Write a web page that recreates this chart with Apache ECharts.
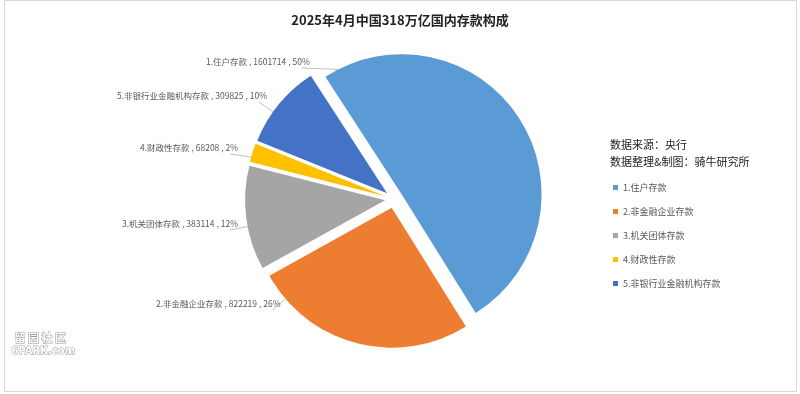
<!DOCTYPE html>
<html>
<head>
<meta charset="utf-8">
<script src="https://cdn.jsdelivr.net/npm/echarts@6/dist/echarts.min.js"></script>
<style>html,body{margin:0;padding:0;background:#fff;}#c{width:800px;height:394px;}</style>
</head>
<body>
<div id="c"></div>
<script>
const titleText = '2025年4月中国318万亿国内存款构成';
const categories = ['1.住户存款', '2.非金融企业存款', '3.机关团体存款', '4.财政性存款', '5.非银行业金融机构存款'];
const values = [1601714, 822219, 383114, 68208, 309825];
const colors = ['#5B9BD5', '#ED7D31', '#A5A5A5', '#FFC000', '#4472C4'];
const sourceLines = ['数据来源：央行', '数据整理&制图：骑牛研究所'];
// label layout (left x, middle y) for each slice label
const labelPos = [[206, 62], [156, 304], [122, 224], [140, 148], [117, 96]];

const PIE_CENTER = [394, 199];
const PIE_R = 140;
const EXPLODE = 9;
const START = 123; // echarts degrees (counter-clockwise from 3 o'clock)

// slice angular ranges (degrees, clockwise from 12 o'clock), derived from the data
const total = values.reduce((a, b) => a + b, 0);
const slices = [];
(function () {
  let acc = 0;
  const base = 90 - START;
  values.forEach(v => {
    const a0 = base + acc / total * 360;
    acc += v;
    slices.push([a0, base + acc / total * 360]);
  });
})();
const rad = d => d * Math.PI / 180;

const chart = echarts.init(document.getElementById('c'), null, {renderer: 'canvas'});
const fontCJK = '"Noto Sans CJK SC", "Noto Sans", sans-serif';
chart.setOption({
  backgroundColor: '#ffffff',
  animation: false,
  color: colors,
  title: {
    text: titleText,
    left: 'center',
    top: 9,
    textStyle: {fontSize: 13, fontWeight: 'bold', color: '#222', fontFamily: fontCJK}
  },
  legend: {
    orient: 'vertical',
    left: 608,
    top: 178,
    icon: 'rect',
    itemWidth: 5,
    itemHeight: 5,
    itemGap: 15,
    selectedMode: false,
    textStyle: {fontSize: 9, color: '#595959', fontFamily: fontCJK},
    data: categories.map((n, i) => ({name: n, itemStyle: {color: colors[i]}}))
  },
  graphic: [
    {type: 'rect', shape: {x: 4.5, y: 0.5, width: 792, height: 391}, style: {fill: 'none', stroke: '#d9d9d9', lineWidth: 1}, silent: true},
    {type: 'text', left: 610, top: 136, style: {text: sourceLines.join('\n'), font: '11px ' + fontCJK, fill: '#222', lineHeight: 17}},
    {type: 'text', left: 14, top: 332, style: {text: '留 园 社 区', font: 'bold 11px ' + fontCJK, fill: '#ffffff', stroke: '#9a9a9a', lineWidth: 1}},
    {type: 'text', left: 11, top: 346, style: {text: '6PARK.com', font: 'bold 10px "DejaVu Sans", sans-serif', fill: '#ffffff', stroke: '#9a9a9a', lineWidth: 1}}
  ],
  series: [{
    type: 'pie',
    center: PIE_CENTER,
    radius: PIE_R,
    startAngle: START,
    clockwise: true,
    selectedMode: 'multiple',
    selectedOffset: EXPLODE,
    silent: true,
    emphasis: {disabled: true},
    itemStyle: {borderWidth: 0},
    label: {show: false},
    labelLine: {show: false},
    data: categories.map((name, i) => ({name: name, value: values[i], selected: true}))
  }, {
    // transparent copy carrying the data labels and leader lines
    type: 'pie',
    center: PIE_CENTER,
    radius: PIE_R,
    startAngle: START,
    clockwise: true,
    silent: true,
    avoidLabelOverlap: false,
    percentPrecision: 0,
    emphasis: {disabled: true},
    itemStyle: {color: 'rgba(0,0,0,0)', borderWidth: 0},
    label: {
      show: true,
      position: 'outside',
      formatter: '{b} , {c} , {d}%',
      fontSize: 8.5,
      color: '#595959',
      fontFamily: fontCJK
    },
    labelLine: {show: true, length: 8, length2: 8, lineStyle: {color: '#bfbfbf', width: 1}},
    labelLayout: function (params) {
      const i = params.dataIndex;
      const p = labelPos[i];
      const w = params.labelRect.width;
      const a0 = slices[i][0], a1 = slices[i][1];
      const mid = (a0 + a1) / 2;
      const cx = PIE_CENTER[0] + EXPLODE * Math.sin(rad(mid));
      const cy = PIE_CENTER[1] - EXPLODE * Math.cos(rad(mid));
      const sx = p[0] + w - 8, sy = p[1] + 6;
      let th = Math.atan2(sx - cx, -(sy - cy)) * 180 / Math.PI;
      let diff = ((th - mid) % 360 + 540) % 360 - 180;
      th = mid + diff;
      const m = Math.min(6, (a1 - a0) / 4);
      th = Math.max(a0 + m, Math.min(a1 - m, th));
      const ex = cx + PIE_R * Math.sin(rad(th));
      const ey = cy - PIE_R * Math.cos(rad(th));
      return {
        x: p[0], y: p[1], align: 'left', verticalAlign: 'middle',
        labelLinePoints: [[ex, ey], [(ex + sx) / 2, (ey + sy) / 2], [sx, sy]]
      };
    },
    data: categories.map((name, i) => ({name: name, value: values[i]}))
  }]
});
</script>
</body>
</html>
